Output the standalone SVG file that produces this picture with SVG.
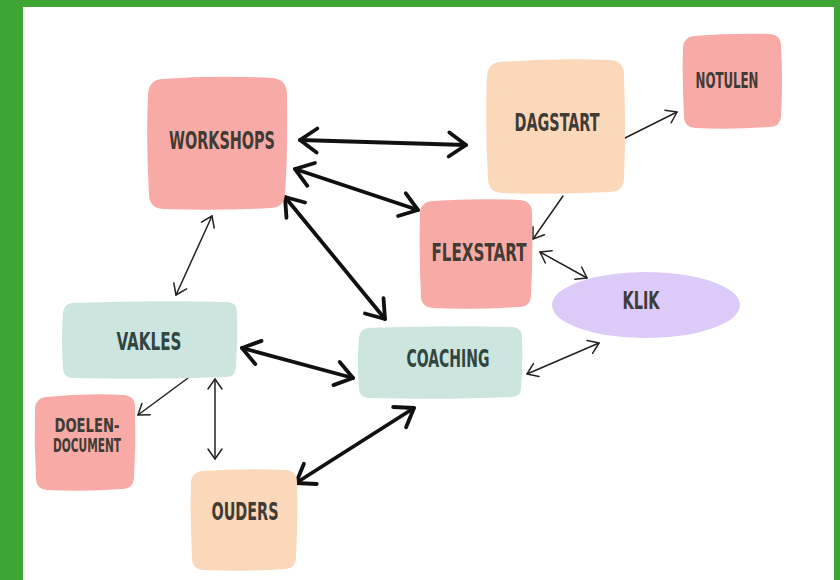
<svg xmlns="http://www.w3.org/2000/svg" width="840" height="580" viewBox="0 0 840 580">
<style>
.lbl{font-family:"DejaVu Sans","Liberation Sans",sans-serif;font-stretch:condensed;font-weight:bold;fill:#403c35;text-anchor:middle}
.teal{fill:#31463f}
.pink{fill:#f8aaa6}
.peach{fill:#fcd8bb}
.mint{fill:#cde5df}
.lav{fill:#dccbf8}
.thick{stroke:#111;stroke-width:3.8;fill:none;stroke-linecap:round;marker-start:url(#hb);marker-end:url(#hb)}
.thin{stroke:#222;stroke-width:1.5;fill:none;stroke-linecap:round}
.thin2{marker-start:url(#hs);marker-end:url(#hs)}
.thin1{marker-end:url(#hs)}
</style>
<defs>
<marker id="hb" markerUnits="userSpaceOnUse" viewBox="-22 -16 26 32" refX="0" refY="0" markerWidth="26" markerHeight="32" orient="auto-start-reverse">
<path d="M-17,-12 L0,0 L-17,12" fill="none" stroke="#111" stroke-width="3.8" stroke-linecap="round" stroke-linejoin="round"/>
</marker>
<marker id="hs" markerUnits="userSpaceOnUse" viewBox="-14 -10 16 20" refX="0" refY="0" markerWidth="16" markerHeight="20" orient="auto-start-reverse">
<path d="M-10,-7 L0,0 L-10,7" fill="none" stroke="#222" stroke-width="1.5" stroke-linecap="round" stroke-linejoin="round"/>
</marker>
</defs>
<rect x="0" y="0" width="840" height="580" fill="#3ea535"/>
<rect x="23" y="7" width="811" height="573" fill="#ffffff"/>

<g id="connectors">
<line class="thick" x1="300" y1="140" x2="466" y2="145"/>
<line class="thick" x1="295" y1="169" x2="418" y2="210"/>
<line class="thick" x1="285" y1="197" x2="385" y2="319"/>
<line class="thick" x1="242" y1="348" x2="353" y2="378"/>
<line class="thick" x1="296" y1="483" x2="414" y2="408"/>
<line class="thin thin2" x1="212" y1="216" x2="176" y2="295"/>
<line class="thin thin1" x1="625" y1="138" x2="677" y2="112"/>
<line class="thin thin1" x1="563" y1="196" x2="533" y2="239"/>
<line class="thin thin2" x1="540" y1="252" x2="587" y2="278"/>
<line class="thin thin2" x1="599" y1="343" x2="527" y2="374"/>
<line class="thin thin1" x1="188" y1="378" x2="138" y2="415"/>
<line class="thin thin2" x1="215" y1="379" x2="215" y2="459"/>
</g>

<g id="workshops">
<path class="pink" d="M162,79 Q215,75 272,78 Q287,79 287,95 Q288,150 285,194 Q284,208 270,208 Q215,211 163,209 Q149,208 149,194 Q146,140 148,94 Q149,80 162,79 Z"/>
<text class="lbl" x="222" y="149" font-size="25" textLength="106" lengthAdjust="spacingAndGlyphs">WORKSHOPS</text>
</g>
<g id="dagstart">
<path class="peach" d="M500,62 Q555,58 611,60 Q624,61 624,75 Q626,130 624,180 Q623,192 609,192 Q555,195 502,193 Q488,192 488,178 Q485,125 487,76 Q488,63 500,62 Z"/>
<text class="lbl" x="557" y="131" font-size="25" textLength="85" lengthAdjust="spacingAndGlyphs">DAGSTART</text>
</g>
<g id="notulen">
<path class="pink" d="M694,36 Q730,33 770,34 Q781,35 781,46 Q783,80 781,117 Q780,127 769,127 Q730,130 695,128 Q684,127 684,116 Q682,80 683,47 Q684,37 694,36 Z"/>
<text class="lbl" x="727" y="88" font-size="22" textLength="63" lengthAdjust="spacingAndGlyphs">NOTULEN</text>
</g>
<g id="flexstart">
<path class="pink" d="M432,201 Q475,198 520,200 Q532,201 532,213 Q533,255 531,296 Q530,307 519,307 Q475,310 433,308 Q421,307 421,296 Q419,255 420,212 Q421,202 432,201 Z"/>
<text class="lbl" x="479" y="261" font-size="25" textLength="95" lengthAdjust="spacingAndGlyphs">FLEXSTART</text>
</g>
<g id="klik">
<ellipse class="lav" cx="646" cy="305" rx="94" ry="33"/>
<text class="lbl" x="641" y="309" font-size="25" textLength="37" lengthAdjust="spacingAndGlyphs">KLIK</text>
</g>
<g id="coaching">
<path class="mint" d="M368,328 Q445,325 513,327 Q522,328 522,337 Q523,362 521,389 Q520,397 511,397 Q445,400 368,398 Q359,397 359,388 Q357,362 359,337 Q360,329 368,328 Z"/>
<text class="lbl teal" x="448" y="367" font-size="25" textLength="83" lengthAdjust="spacingAndGlyphs">COACHING</text>
</g>
<g id="vakles">
<path class="mint" d="M72,303 Q150,300 228,302 Q237,303 237,312 Q238,340 236,368 Q235,377 226,377 Q150,380 72,378 Q63,377 63,368 Q61,340 63,312 Q64,304 72,303 Z"/>
<text class="lbl teal" x="149" y="350" font-size="25" textLength="65" lengthAdjust="spacingAndGlyphs">VAKLES</text>
</g>
<g id="doelendocument">
<path class="pink" d="M46,397 Q85,393 124,395 Q135,396 135,407 Q136,443 134,478 Q133,489 122,489 Q85,492 47,490 Q36,489 36,478 Q34,443 35,408 Q36,398 46,397 Z"/>
<text class="lbl" x="87" y="432" font-size="19" textLength="65" lengthAdjust="spacingAndGlyphs">DOELEN-</text>
<text class="lbl" x="87" y="452" font-size="19" textLength="68" lengthAdjust="spacingAndGlyphs">DOCUMENT</text>
</g>
<g id="ouders">
<path class="peach" d="M202,471 Q245,468 286,470 Q297,471 297,482 Q298,520 296,558 Q295,569 284,569 Q245,572 203,570 Q192,569 192,558 Q190,520 191,482 Q192,472 202,471 Z"/>
<text class="lbl" x="245" y="520" font-size="25" textLength="67" lengthAdjust="spacingAndGlyphs">OUDERS</text>
</g>
</svg>
